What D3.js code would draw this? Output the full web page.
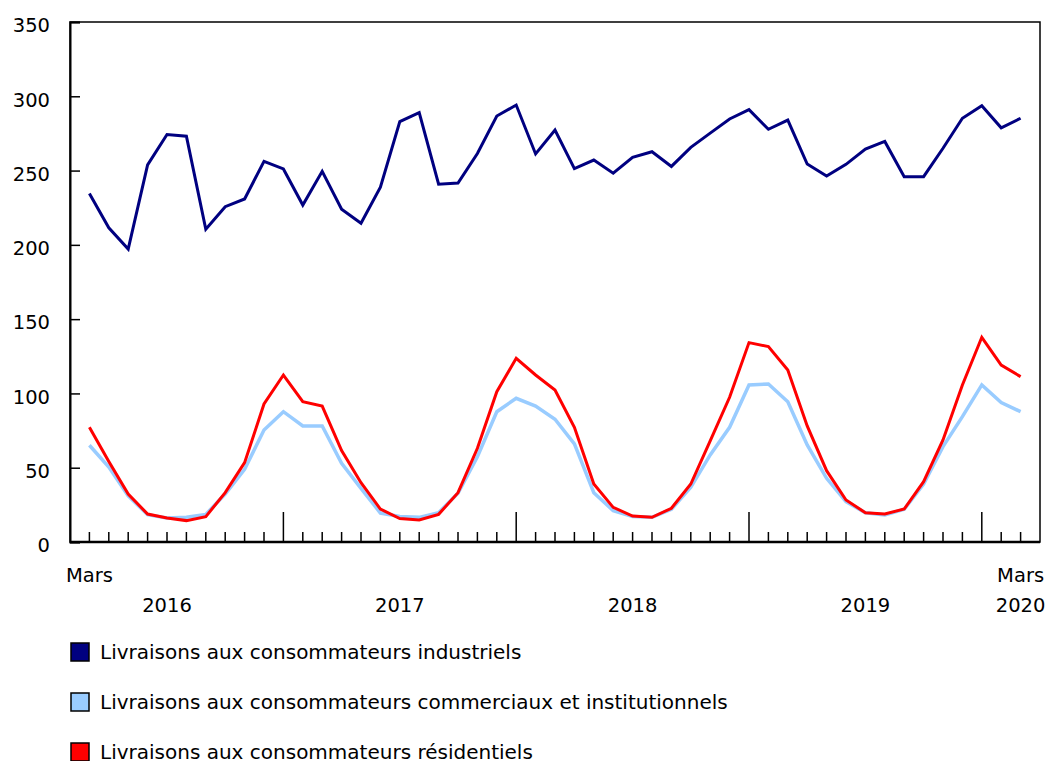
<!DOCTYPE html>
<html><head><meta charset="utf-8">
<script src="https://cdn.jsdelivr.net/npm/d3@7"></script>
<style>
body{margin:0;background:#fff;}
svg{display:block;font-family:"DejaVu Sans",Verdana,sans-serif;}
</style></head>
<body>
<svg id="c" width="1048" height="761"></svg>
<script>
const months = ["2016-03","2016-04","2016-05","2016-06","2016-07","2016-08","2016-09","2016-10","2016-11","2016-12",
"2017-01","2017-02","2017-03","2017-04","2017-05","2017-06","2017-07","2017-08","2017-09","2017-10","2017-11","2017-12",
"2018-01","2018-02","2018-03","2018-04","2018-05","2018-06","2018-07","2018-08","2018-09","2018-10","2018-11","2018-12",
"2019-01","2019-02","2019-03","2019-04","2019-05","2019-06","2019-07","2019-08","2019-09","2019-10","2019-11","2019-12",
"2020-01","2020-02","2020-03"];
const industriels = [234.5,211.5,197.2,253.8,274.3,273.1,210.5,225.7,230.9,256.2,251.1,226.8,249.5,224,214.5,238.8,
283,289,240.8,241.6,261.5,286.7,294.1,261.2,277.3,251.3,257.1,248.2,258.9,262.7,252.8,265.6,275.2,284.7,291,277.8,284,
254.4,246.3,254.2,264.5,269.6,245.9,245.9,265,285.2,293.6,278.8,285.2];
const commerciaux = [65.1,50.5,31,18.4,16.2,16.6,18.6,32.3,48.9,75.4,87.7,78.1,78.1,53,36.1,19.5,17.2,16.6,19.7,32.8,
57.4,87.7,96.7,91.5,82.6,66,33.2,21.1,17.1,16.6,22,36.8,58.6,77.2,105.7,106.3,94.4,65.3,42.9,27.1,19.7,18.2,22,39,64.2,
84.4,105.7,93.8,87.7];
const residentiels = [77.2,54.2,32.3,18.8,16.2,14.4,17.1,33.2,53.4,92.9,112.4,94.4,91.5,61.5,39.9,22.2,15.8,14.8,18.6,33.2,
63.1,101.2,123.6,112.4,102.3,77.2,39,23.3,17.5,16.6,22.7,39,68,97.4,134.2,131.5,115.8,78.1,48,28.3,19.7,18.8,22.2,40.6,
68.7,105.7,137.8,119.1,111.3];
const yTicks = [0,50,100,150,200,250,300,350];
const yearLabels = ["2016","2017","2018","2019","2020"];
const monthLabel = "Mars";
const seriesNames = ["Livraisons aux consommateurs industriels",
  "Livraisons aux consommateurs commerciaux et institutionnels",
  "Livraisons aux consommateurs résidentiels"];
const colors = ["#000080","#99ccff","#ff0000"];

const svg = d3.select("#c");
const L=70,R=1040,T=22,B=542;
const FS = 19.5, LFS = 20;
const x = d3.scaleLinear().domain([-1, months.length]).range([L,R]);
const y = d3.scaleLinear().domain([0,350]).range([B,T]);

// frame
svg.append("rect").attr("x",L).attr("y",T).attr("width",R-L).attr("height",B-T)
  .attr("fill","none").attr("stroke","#000").attr("stroke-width",1.5);

// y axis
const yAxis = d3.axisLeft(y).tickValues(yTicks).tickSize(-10).tickPadding(20).tickFormat(d3.format("d"));
const gy = svg.append("g").attr("transform",`translate(${L},0)`).call(yAxis);
gy.select(".domain").attr("stroke","#000").attr("stroke-width",2);
gy.selectAll(".tick line").attr("stroke","#000").attr("stroke-width",1.5);
gy.selectAll(".tick text").attr("font-size",FS).attr("fill","#000").attr("font-family","DejaVu Sans, Verdana, sans-serif").attr("dy","0.5em");

// x axis ticks
const idx = months.map((m,i)=>i);
const gx = svg.append("g");
gx.selectAll("line.t").data(idx).enter().append("line")
  .attr("x1",i=>x(i)).attr("x2",i=>x(i))
  .attr("y1",B).attr("y2",i=>months[i].endsWith("-01")?B-30:B-10)
  .attr("stroke","#000").attr("stroke-width",1.5);
svg.append("line").attr("x1",L).attr("x2",R).attr("y1",B).attr("y2",B).attr("stroke","#000").attr("stroke-width",2.5);

// x labels
const first = 0, last = months.length-1;
[first,last].forEach(i=>{
  svg.append("text").attr("x",x(i)).attr("y",582).attr("text-anchor","middle").attr("font-size",FS).text(monthLabel);
});
yearLabels.forEach(yr=>{
  let pos;
  if (yr === months[last].slice(0,4)) pos = last;
  else pos = months.indexOf(yr+"-07");
  if (pos < 0) pos = months.indexOf(yr+"-01") + 6;
  svg.append("text").attr("x",x(pos)).attr("y",612).attr("text-anchor","middle").attr("font-size",FS).text(yr);
});

// lines
const line = d3.line().x((d,i)=>x(i)).y(d=>y(d));
svg.append("path").datum(commerciaux).attr("d",line).attr("fill","none").attr("stroke",colors[1]).attr("stroke-width",3.5).attr("stroke-linejoin","miter");
svg.append("path").datum(residentiels).attr("d",line).attr("fill","none").attr("stroke",colors[2]).attr("stroke-width",3).attr("stroke-linejoin","miter");
svg.append("path").datum(industriels).attr("d",line).attr("fill","none").attr("stroke",colors[0]).attr("stroke-width",3).attr("stroke-linejoin","miter");

// legend
const lg = svg.append("g");
seriesNames.forEach((n,k)=>{
  const cy = 652 + k*50;
  lg.append("rect").attr("x",71).attr("y",cy-9).attr("width",18).attr("height",18)
    .attr("fill",colors[k]).attr("stroke","#000").attr("stroke-width",1.5);
  lg.append("text").attr("x",100).attr("y",cy).attr("dy","0.35em").attr("font-size",LFS).text(n);
});
</script>
</body></html>
